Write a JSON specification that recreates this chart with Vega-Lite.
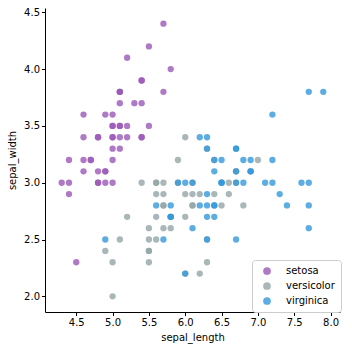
{
  "$schema": "https://vega.github.io/schema/vega-lite/v6.json",
  "width": 295,
  "height": 304,
  "autosize": {"type": "none"},
  "padding": {"left": 45, "top": 8, "right": 12, "bottom": 40},
  "background": "white",
  "config": {
    "view": {"stroke": null},
    "font": "DejaVu Sans",
    "axis": {
      "grid": false,
      "domainColor": "#000000",
      "domainWidth": 1,
      "tickColor": "#000000",
      "tickSize": 3.5,
      "tickWidth": 1,
      "labelFont": "DejaVu Sans",
      "labelFontSize": 10,
      "labelColor": "#000000",
      "labelPadding": 2,
      "titleFont": "DejaVu Sans",
      "titleFontSize": 10,
      "titleFontWeight": "normal",
      "titleColor": "#000000"
    }
  },
  "data": {
    "values": [
      {"sepal_length": 5.1, "sepal_width": 3.5, "species": "setosa"},
      {"sepal_length": 4.9, "sepal_width": 3.0, "species": "setosa"},
      {"sepal_length": 4.7, "sepal_width": 3.2, "species": "setosa"},
      {"sepal_length": 4.6, "sepal_width": 3.1, "species": "setosa"},
      {"sepal_length": 5.0, "sepal_width": 3.6, "species": "setosa"},
      {"sepal_length": 5.4, "sepal_width": 3.9, "species": "setosa"},
      {"sepal_length": 4.6, "sepal_width": 3.4, "species": "setosa"},
      {"sepal_length": 5.0, "sepal_width": 3.4, "species": "setosa"},
      {"sepal_length": 4.4, "sepal_width": 2.9, "species": "setosa"},
      {"sepal_length": 4.9, "sepal_width": 3.1, "species": "setosa"},
      {"sepal_length": 5.4, "sepal_width": 3.7, "species": "setosa"},
      {"sepal_length": 4.8, "sepal_width": 3.4, "species": "setosa"},
      {"sepal_length": 4.8, "sepal_width": 3.0, "species": "setosa"},
      {"sepal_length": 4.3, "sepal_width": 3.0, "species": "setosa"},
      {"sepal_length": 5.8, "sepal_width": 4.0, "species": "setosa"},
      {"sepal_length": 5.7, "sepal_width": 4.4, "species": "setosa"},
      {"sepal_length": 5.4, "sepal_width": 3.9, "species": "setosa"},
      {"sepal_length": 5.1, "sepal_width": 3.5, "species": "setosa"},
      {"sepal_length": 5.7, "sepal_width": 3.8, "species": "setosa"},
      {"sepal_length": 5.1, "sepal_width": 3.8, "species": "setosa"},
      {"sepal_length": 5.4, "sepal_width": 3.4, "species": "setosa"},
      {"sepal_length": 5.1, "sepal_width": 3.7, "species": "setosa"},
      {"sepal_length": 4.6, "sepal_width": 3.6, "species": "setosa"},
      {"sepal_length": 5.1, "sepal_width": 3.3, "species": "setosa"},
      {"sepal_length": 4.8, "sepal_width": 3.4, "species": "setosa"},
      {"sepal_length": 5.0, "sepal_width": 3.0, "species": "setosa"},
      {"sepal_length": 5.0, "sepal_width": 3.4, "species": "setosa"},
      {"sepal_length": 5.2, "sepal_width": 3.5, "species": "setosa"},
      {"sepal_length": 5.2, "sepal_width": 3.4, "species": "setosa"},
      {"sepal_length": 4.7, "sepal_width": 3.2, "species": "setosa"},
      {"sepal_length": 4.8, "sepal_width": 3.1, "species": "setosa"},
      {"sepal_length": 5.4, "sepal_width": 3.4, "species": "setosa"},
      {"sepal_length": 5.2, "sepal_width": 4.1, "species": "setosa"},
      {"sepal_length": 5.5, "sepal_width": 4.2, "species": "setosa"},
      {"sepal_length": 4.9, "sepal_width": 3.1, "species": "setosa"},
      {"sepal_length": 5.0, "sepal_width": 3.2, "species": "setosa"},
      {"sepal_length": 5.5, "sepal_width": 3.5, "species": "setosa"},
      {"sepal_length": 4.9, "sepal_width": 3.6, "species": "setosa"},
      {"sepal_length": 4.4, "sepal_width": 3.0, "species": "setosa"},
      {"sepal_length": 5.1, "sepal_width": 3.4, "species": "setosa"},
      {"sepal_length": 5.0, "sepal_width": 3.5, "species": "setosa"},
      {"sepal_length": 4.5, "sepal_width": 2.3, "species": "setosa"},
      {"sepal_length": 4.4, "sepal_width": 3.2, "species": "setosa"},
      {"sepal_length": 5.0, "sepal_width": 3.5, "species": "setosa"},
      {"sepal_length": 5.1, "sepal_width": 3.8, "species": "setosa"},
      {"sepal_length": 4.8, "sepal_width": 3.0, "species": "setosa"},
      {"sepal_length": 5.1, "sepal_width": 3.8, "species": "setosa"},
      {"sepal_length": 4.6, "sepal_width": 3.2, "species": "setosa"},
      {"sepal_length": 5.3, "sepal_width": 3.7, "species": "setosa"},
      {"sepal_length": 5.0, "sepal_width": 3.3, "species": "setosa"},
      {"sepal_length": 7.0, "sepal_width": 3.2, "species": "versicolor"},
      {"sepal_length": 6.4, "sepal_width": 3.2, "species": "versicolor"},
      {"sepal_length": 6.9, "sepal_width": 3.1, "species": "versicolor"},
      {"sepal_length": 5.5, "sepal_width": 2.3, "species": "versicolor"},
      {"sepal_length": 6.5, "sepal_width": 2.8, "species": "versicolor"},
      {"sepal_length": 5.7, "sepal_width": 2.8, "species": "versicolor"},
      {"sepal_length": 6.3, "sepal_width": 3.3, "species": "versicolor"},
      {"sepal_length": 4.9, "sepal_width": 2.4, "species": "versicolor"},
      {"sepal_length": 6.6, "sepal_width": 2.9, "species": "versicolor"},
      {"sepal_length": 5.2, "sepal_width": 2.7, "species": "versicolor"},
      {"sepal_length": 5.0, "sepal_width": 2.0, "species": "versicolor"},
      {"sepal_length": 5.9, "sepal_width": 3.0, "species": "versicolor"},
      {"sepal_length": 6.0, "sepal_width": 2.2, "species": "versicolor"},
      {"sepal_length": 6.1, "sepal_width": 2.9, "species": "versicolor"},
      {"sepal_length": 5.6, "sepal_width": 2.9, "species": "versicolor"},
      {"sepal_length": 6.7, "sepal_width": 3.1, "species": "versicolor"},
      {"sepal_length": 5.6, "sepal_width": 3.0, "species": "versicolor"},
      {"sepal_length": 5.8, "sepal_width": 2.7, "species": "versicolor"},
      {"sepal_length": 6.2, "sepal_width": 2.2, "species": "versicolor"},
      {"sepal_length": 5.6, "sepal_width": 2.5, "species": "versicolor"},
      {"sepal_length": 5.9, "sepal_width": 3.2, "species": "versicolor"},
      {"sepal_length": 6.1, "sepal_width": 2.8, "species": "versicolor"},
      {"sepal_length": 6.3, "sepal_width": 2.5, "species": "versicolor"},
      {"sepal_length": 6.1, "sepal_width": 2.8, "species": "versicolor"},
      {"sepal_length": 6.4, "sepal_width": 2.9, "species": "versicolor"},
      {"sepal_length": 6.6, "sepal_width": 3.0, "species": "versicolor"},
      {"sepal_length": 6.8, "sepal_width": 2.8, "species": "versicolor"},
      {"sepal_length": 6.7, "sepal_width": 3.0, "species": "versicolor"},
      {"sepal_length": 6.0, "sepal_width": 2.9, "species": "versicolor"},
      {"sepal_length": 5.7, "sepal_width": 2.6, "species": "versicolor"},
      {"sepal_length": 5.5, "sepal_width": 2.4, "species": "versicolor"},
      {"sepal_length": 5.5, "sepal_width": 2.4, "species": "versicolor"},
      {"sepal_length": 5.8, "sepal_width": 2.7, "species": "versicolor"},
      {"sepal_length": 6.0, "sepal_width": 2.7, "species": "versicolor"},
      {"sepal_length": 5.4, "sepal_width": 3.0, "species": "versicolor"},
      {"sepal_length": 6.0, "sepal_width": 3.4, "species": "versicolor"},
      {"sepal_length": 6.7, "sepal_width": 3.1, "species": "versicolor"},
      {"sepal_length": 6.3, "sepal_width": 2.3, "species": "versicolor"},
      {"sepal_length": 5.6, "sepal_width": 3.0, "species": "versicolor"},
      {"sepal_length": 5.5, "sepal_width": 2.5, "species": "versicolor"},
      {"sepal_length": 5.5, "sepal_width": 2.6, "species": "versicolor"},
      {"sepal_length": 6.1, "sepal_width": 3.0, "species": "versicolor"},
      {"sepal_length": 5.8, "sepal_width": 2.6, "species": "versicolor"},
      {"sepal_length": 5.0, "sepal_width": 2.3, "species": "versicolor"},
      {"sepal_length": 5.6, "sepal_width": 2.7, "species": "versicolor"},
      {"sepal_length": 5.7, "sepal_width": 3.0, "species": "versicolor"},
      {"sepal_length": 5.7, "sepal_width": 2.9, "species": "versicolor"},
      {"sepal_length": 6.2, "sepal_width": 2.9, "species": "versicolor"},
      {"sepal_length": 5.1, "sepal_width": 2.5, "species": "versicolor"},
      {"sepal_length": 5.7, "sepal_width": 2.8, "species": "versicolor"},
      {"sepal_length": 6.3, "sepal_width": 3.3, "species": "virginica"},
      {"sepal_length": 5.8, "sepal_width": 2.7, "species": "virginica"},
      {"sepal_length": 7.1, "sepal_width": 3.0, "species": "virginica"},
      {"sepal_length": 6.3, "sepal_width": 2.9, "species": "virginica"},
      {"sepal_length": 6.5, "sepal_width": 3.0, "species": "virginica"},
      {"sepal_length": 7.6, "sepal_width": 3.0, "species": "virginica"},
      {"sepal_length": 4.9, "sepal_width": 2.5, "species": "virginica"},
      {"sepal_length": 7.3, "sepal_width": 2.9, "species": "virginica"},
      {"sepal_length": 6.7, "sepal_width": 2.5, "species": "virginica"},
      {"sepal_length": 7.2, "sepal_width": 3.6, "species": "virginica"},
      {"sepal_length": 6.5, "sepal_width": 3.2, "species": "virginica"},
      {"sepal_length": 6.4, "sepal_width": 2.7, "species": "virginica"},
      {"sepal_length": 6.8, "sepal_width": 3.0, "species": "virginica"},
      {"sepal_length": 5.7, "sepal_width": 2.5, "species": "virginica"},
      {"sepal_length": 5.8, "sepal_width": 2.8, "species": "virginica"},
      {"sepal_length": 6.4, "sepal_width": 3.2, "species": "virginica"},
      {"sepal_length": 6.5, "sepal_width": 3.0, "species": "virginica"},
      {"sepal_length": 7.7, "sepal_width": 3.8, "species": "virginica"},
      {"sepal_length": 7.7, "sepal_width": 2.6, "species": "virginica"},
      {"sepal_length": 6.0, "sepal_width": 2.2, "species": "virginica"},
      {"sepal_length": 6.9, "sepal_width": 3.2, "species": "virginica"},
      {"sepal_length": 5.6, "sepal_width": 2.8, "species": "virginica"},
      {"sepal_length": 7.7, "sepal_width": 2.8, "species": "virginica"},
      {"sepal_length": 6.3, "sepal_width": 2.7, "species": "virginica"},
      {"sepal_length": 6.7, "sepal_width": 3.3, "species": "virginica"},
      {"sepal_length": 7.2, "sepal_width": 3.2, "species": "virginica"},
      {"sepal_length": 6.2, "sepal_width": 2.8, "species": "virginica"},
      {"sepal_length": 6.1, "sepal_width": 3.0, "species": "virginica"},
      {"sepal_length": 6.4, "sepal_width": 2.8, "species": "virginica"},
      {"sepal_length": 7.2, "sepal_width": 3.0, "species": "virginica"},
      {"sepal_length": 7.4, "sepal_width": 2.8, "species": "virginica"},
      {"sepal_length": 7.9, "sepal_width": 3.8, "species": "virginica"},
      {"sepal_length": 6.4, "sepal_width": 2.8, "species": "virginica"},
      {"sepal_length": 6.3, "sepal_width": 2.8, "species": "virginica"},
      {"sepal_length": 6.1, "sepal_width": 2.6, "species": "virginica"},
      {"sepal_length": 7.7, "sepal_width": 3.0, "species": "virginica"},
      {"sepal_length": 6.3, "sepal_width": 3.4, "species": "virginica"},
      {"sepal_length": 6.4, "sepal_width": 3.1, "species": "virginica"},
      {"sepal_length": 6.0, "sepal_width": 3.0, "species": "virginica"},
      {"sepal_length": 6.9, "sepal_width": 3.1, "species": "virginica"},
      {"sepal_length": 6.7, "sepal_width": 3.1, "species": "virginica"},
      {"sepal_length": 6.9, "sepal_width": 3.1, "species": "virginica"},
      {"sepal_length": 5.8, "sepal_width": 2.7, "species": "virginica"},
      {"sepal_length": 6.8, "sepal_width": 3.2, "species": "virginica"},
      {"sepal_length": 6.7, "sepal_width": 3.3, "species": "virginica"},
      {"sepal_length": 6.7, "sepal_width": 3.0, "species": "virginica"},
      {"sepal_length": 6.3, "sepal_width": 2.5, "species": "virginica"},
      {"sepal_length": 6.5, "sepal_width": 3.0, "species": "virginica"},
      {"sepal_length": 6.2, "sepal_width": 3.4, "species": "virginica"},
      {"sepal_length": 5.9, "sepal_width": 3.0, "species": "virginica"}
    ]
  },
  "mark": {"type": "circle", "size": 40, "opacity": 0.8, "strokeWidth": 0},
  "encoding": {
    "x": {
      "field": "sepal_length",
      "type": "quantitative",
      "scale": {"domain": [4.07, 8.13], "nice": false, "zero": false},
      "axis": {"values": [4.5, 5.0, 5.5, 6.0, 6.5, 7.0, 7.5, 8.0], "format": ".1f", "title": "sepal_length", "titlePadding": 5}
    },
    "y": {
      "field": "sepal_width",
      "type": "quantitative",
      "scale": {"domain": [1.862, 4.538], "nice": false, "zero": false},
      "axis": {"values": [2.0, 2.5, 3.0, 3.5, 4.0, 4.5], "format": ".1f", "title": "sepal_width", "titlePadding": 6}
    },
    "color": {
      "field": "species",
      "type": "nominal",
      "scale": {"domain": ["setosa", "versicolor", "virginica"], "range": ["#9b59b6", "#95a5a6", "#3498db"]},
      "legend": {
        "title": null,
        "orient": "none",
        "legendX": 207,
        "legendY": 252,
        "fillColor": "white",
        "strokeColor": "#cccccc",
        "cornerRadius": 3,
        "padding": 6,
        "labelFont": "DejaVu Sans",
        "labelFontSize": 10,
        "labelColor": "#000000",
        "symbolType": "circle",
        "symbolSize": 60,
        "symbolOpacity": 0.8,
        "symbolStrokeWidth": 0,
        "rowPadding": 5,
        "labelOffset": 14,
        "symbolOffset": 4
      }
    }
  }
}
